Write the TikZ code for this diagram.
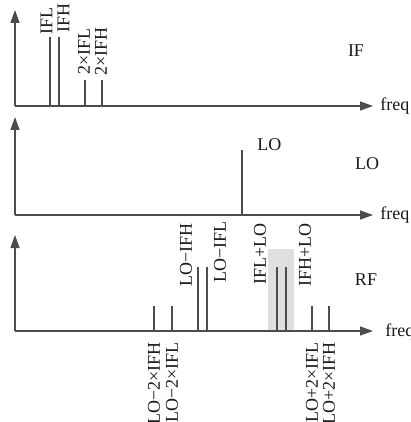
\documentclass[tikz,border=0pt]{standalone}
\usepackage{fontspec}
\setmainfont{Liberation Serif}
\usetikzlibrary{arrows.meta}

\begin{document}
\begin{tikzpicture}[x=0.5pt,y=-0.5pt,
  axis/.style={draw=black!70,line width=0.65pt,-{Triangle[length=6.5pt,width=4.5pt]}},
  spec/.style={draw=black!70,line width=0.65pt},
  lbl/.style={rotate=90,inner sep=0pt,font=\fontsize{9}{10}\selectfont,text=black!90},
  tag/.style={inner sep=0pt,font=\fontsize{9}{10}\selectfont,text=black!90}]
  \useasboundingbox (0,0) rectangle (411,422);

  \fill[gray!25] (268,249) rectangle (294,331);

  \coordinate (o1) at (15,106);
  \coordinate (o2) at (15,215);
  \coordinate (o3) at (15,331);
  \coordinate (y1) at (15,10);
  \coordinate (y2) at (15,117);
  \coordinate (y3) at (15,235);
  \coordinate (x1) at (373,106);
  \coordinate (x2) at (373,215);
  \coordinate (x3) at (373,331);
  \draw[axis] (o1) -- (y1);
  \draw[axis] (o1) -- (x1);
  \draw[axis] (o2) -- (y2);
  \draw[axis] (o2) -- (x2);
  \draw[axis] (o3) -- (y3);
  \draw[axis] (o3) -- (x3);
  \node[tag,anchor=west] (f1) at (380,106) {freq};
  \node[tag,anchor=west] (f2) at (380,215) {freq};
  \node[tag,anchor=west] (f3) at (385,332) {freq};

  \node[tag] (if) at (356,51) {IF};
  \node[tag] (lo) at (367,164) {LO};
  \node[tag] (rf) at (366,280) {RF};

  \draw[spec] (50,106) -- (50,37);
  \draw[spec] (59,106) -- (59,37);
  \draw[spec] (85,106) -- (85,80);
  \draw[spec] (102,106) -- (102,80);
  \node[lbl,anchor=west] (ifl) at (46.5,35) {IFL};
  \node[lbl,anchor=west] (ifh) at (63.5,33) {IFH};
  \node[lbl,anchor=west] (ifl2) at (84,75) {2×IFL};
  \node[lbl,anchor=west] (ifh2) at (101,76) {2×IFH};

  \draw[spec] (242,215) -- (242,150);
  \node[tag,anchor=west] (lotop) at (257,145) {LO};

  \draw[spec] (154,331) -- (154,306);
  \draw[spec] (172,331) -- (172,306);
  \draw[spec] (198,331) -- (198,267);
  \draw[spec] (207,331) -- (207,267);
  \draw[spec] (277,331) -- (277,267);
  \draw[spec] (286,331) -- (286,267);
  \draw[spec] (312,331) -- (312,306);
  \draw[spec] (329,331) -- (329,306);
  \node[lbl,anchor=west] (lomh) at (186,287) {LO−IFH};
  \node[lbl,anchor=west] (loml) at (220,283) {LO−IFL};
  \node[lbl,anchor=west] (lplo) at (260,285) {IFL+LO};
  \node[lbl,anchor=west] (hplo) at (305,287) {IFH+LO};
  \node[lbl,anchor=east] (lomh2) at (154,342) {LO−2×IFH};
  \node[lbl,anchor=east] (loml2) at (172,342) {LO−2×IFL};
  \node[lbl,anchor=east] (lopl2) at (312,342) {LO+2×IFL};
  \node[lbl,anchor=east] (loph2) at (329,342) {LO+2×IFH};
\end{tikzpicture}
\end{document}
